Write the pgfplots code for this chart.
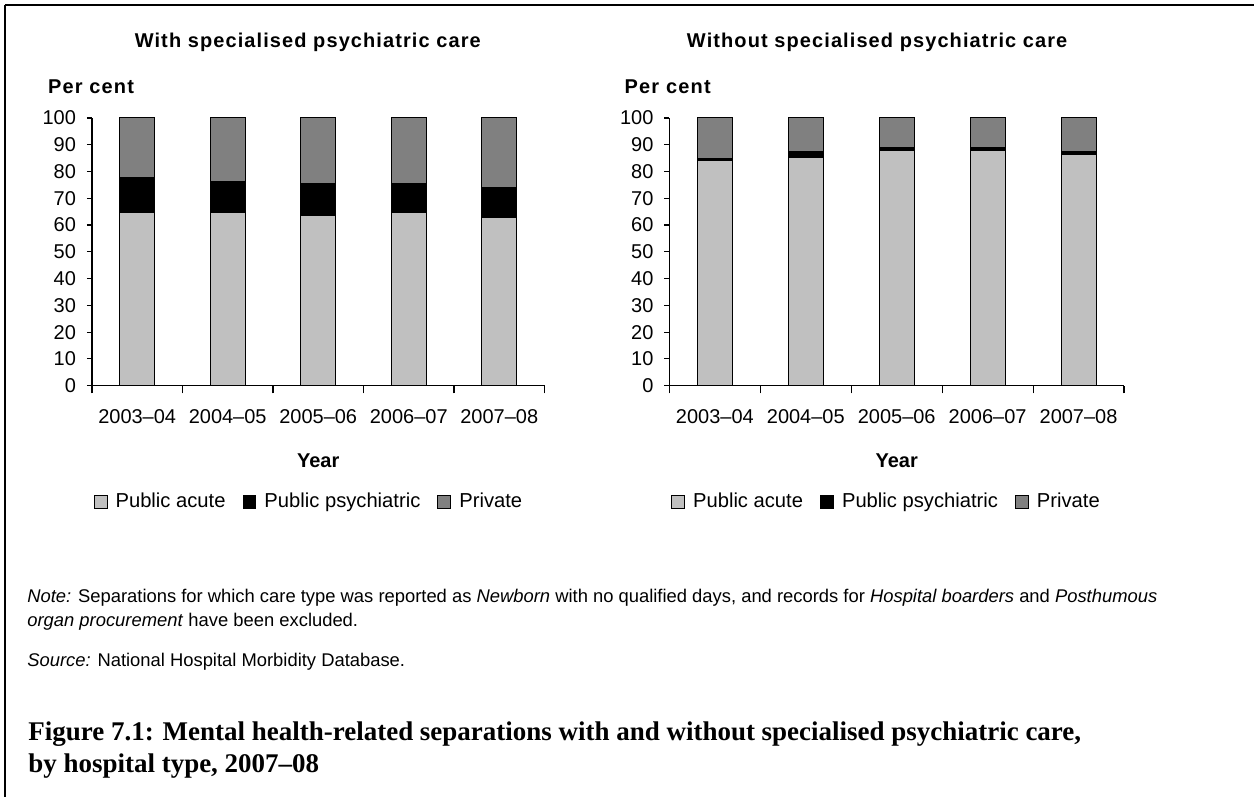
\documentclass[border=0pt]{standalone}
\usepackage{fontspec}
\setmainfont{Liberation Sans}
\newfontfamily\capfont[Ligatures=TeX]{Liberation Serif}
\usepackage{pgfplots}
\usepackage{pgfplotstable}
\pgfplotsset{compat=1.18}
\definecolor{acute}{HTML}{C0C0C0}
\definecolor{priv}{HTML}{808080}

\pgfplotstableread{
x acute psych priv
0 64.5 13.2 22.3
1 64.5 11.9 23.6
2 63.7 11.8 24.5
3 64.5 11.0 24.5
4 62.9 11.1 26.0
}\withdata
\pgfplotstableread{
x acute psych priv
0 84.0 1.0 15.0
1 85.4 2.0 12.6
2 87.7 1.2 11.1
3 87.7 1.2 11.1
4 86.2 1.2 12.6
}\withoutdata

\pgfplotsset{
  mybar/.style={
    ybar stacked, bar width=17.5pt,
    scale only axis, height=134pt,
    xmin=-0.5, xmax=4.5, ymin=0, ymax=100,
    ytick={0,10,...,100}, yticklabels={0,10,20,30,40,50,60,70,80,90,100},
    xtick={0,1,2,3,4}, xticklabels={2003--04,2004--05,2005--06,2006--07,2007--08},
    minor xtick={-0.5,0.5,1.5,2.5,3.5,4.5},
    major x tick style={draw=none},
    minor x tick style={black, line width=0.6pt},
    axis x line=bottom, axis y line=left,
    axis line style={-, black, line width=0.75pt},
    tick align=outside, major tick length=2.5pt, minor tick length=3.8pt,
    ytick style={black, line width=0.6pt},
    /pgf/number format/assume math mode=true,
    tick label style={font=\fontsize{10}{12}\selectfont},
    xticklabel style={yshift=-6pt},
    yticklabel style={xshift=-2pt},
    title style={font=\fontsize{10}{12}\selectfont\bfseries\addfontfeature{LetterSpace=5.5}, anchor=base},
    ylabel style={rotate=-90, anchor=base west, font=\fontsize{10}{12}\selectfont\bfseries\addfontfeature{LetterSpace=6}},
    xlabel style={font=\fontsize{10}{12}\selectfont\bfseries, anchor=base},
    xlabel={Year}, ylabel={Per cent},
    legend style={draw=none, fill=none, legend columns=3,
      font=\fontsize{10.1}{12}\selectfont, anchor=center,
      nodes={inner xsep=4pt},
      /tikz/every even column/.append style={column sep=4.5pt}},
    legend cell align=left,
  },
  sq/.style={draw=black, line width=0.5pt,
    legend image code/.code={\draw[##1,draw=black,line width=0.5pt] (0pt,-3.25pt) rectangle (6.5pt,3.25pt);}},
}

\begin{document}
\begin{tikzpicture}[x=0.5pt,y=-0.5pt]
\path (0,0) rectangle (1255,798);
\draw[line width=1.1pt] (5,5) -- (1255,5);
\draw[line width=1.1pt] (5,5) -- (5,798);

\begin{axis}[mybar, width=226.5pt, at={(46pt,-193pt)}, anchor=south west,
  title={With specialised psychiatric care},
  title style={at={(axis description cs:0.477,1.220)}},
  ylabel style={at={(axis description cs:-0.1126,1.093)}},
  xlabel style={at={(axis description cs:0.5,-0.306)}},
  legend style={at={(axis description cs:0.486,-0.433)}}]
\addplot[sq, fill=acute] table[x=x,y=acute]{\withdata};
\addplot[sq, fill=black] table[x=x,y=psych]{\withdata};
\addplot[sq, fill=priv] table[x=x,y=priv]{\withdata};
\legend{Public acute, Public psychiatric, Private}
\end{axis}

\begin{axis}[mybar, width=227.5pt, at={(335pt,-193pt)}, anchor=south west,
  title={Without specialised psychiatric care},
  title style={at={(axis description cs:0.457,1.220)}},
  ylabel style={at={(axis description cs:-0.114,1.093)}},
  xlabel style={at={(axis description cs:0.5,-0.306)}},
  legend style={at={(axis description cs:0.484,-0.433)}}]
\addplot[sq, fill=acute] table[x=x,y=acute]{\withoutdata};
\addplot[sq, fill=black] table[x=x,y=psych]{\withoutdata};
\addplot[sq, fill=priv] table[x=x,y=priv]{\withoutdata};
\legend{Public acute, Public psychiatric, Private}
\end{axis}

\node[anchor=base west, inner sep=0pt, font=\fontsize{9.2}{11}\selectfont] at (27,603)
  {\textit{Note:} Separations for which care type was reported as \textit{Newborn} with no qualified days, and records for \textit{Hospital boarders} and \textit{Posthumous}};
\node[anchor=base west, inner sep=0pt, font=\fontsize{9.2}{11}\selectfont] at (27,627)
  {\textit{organ procurement} have been excluded.};
\node[anchor=base west, inner sep=0pt, font=\fontsize{9.2}{11}\selectfont] at (27,667)
  {\textit{Source:} National Hospital Morbidity Database.};
\node[anchor=base west, inner sep=0pt, font=\capfont\bfseries\fontsize{13.5}{16}\selectfont] at (28,741)
  {Figure 7.1: Mental health-related separations with and without specialised psychiatric care,};
\node[anchor=base west, inner sep=0pt, font=\capfont\bfseries\fontsize{13.5}{16}\selectfont] at (28,773)
  {by hospital type, 2007--08};
\end{tikzpicture}
\end{document}
